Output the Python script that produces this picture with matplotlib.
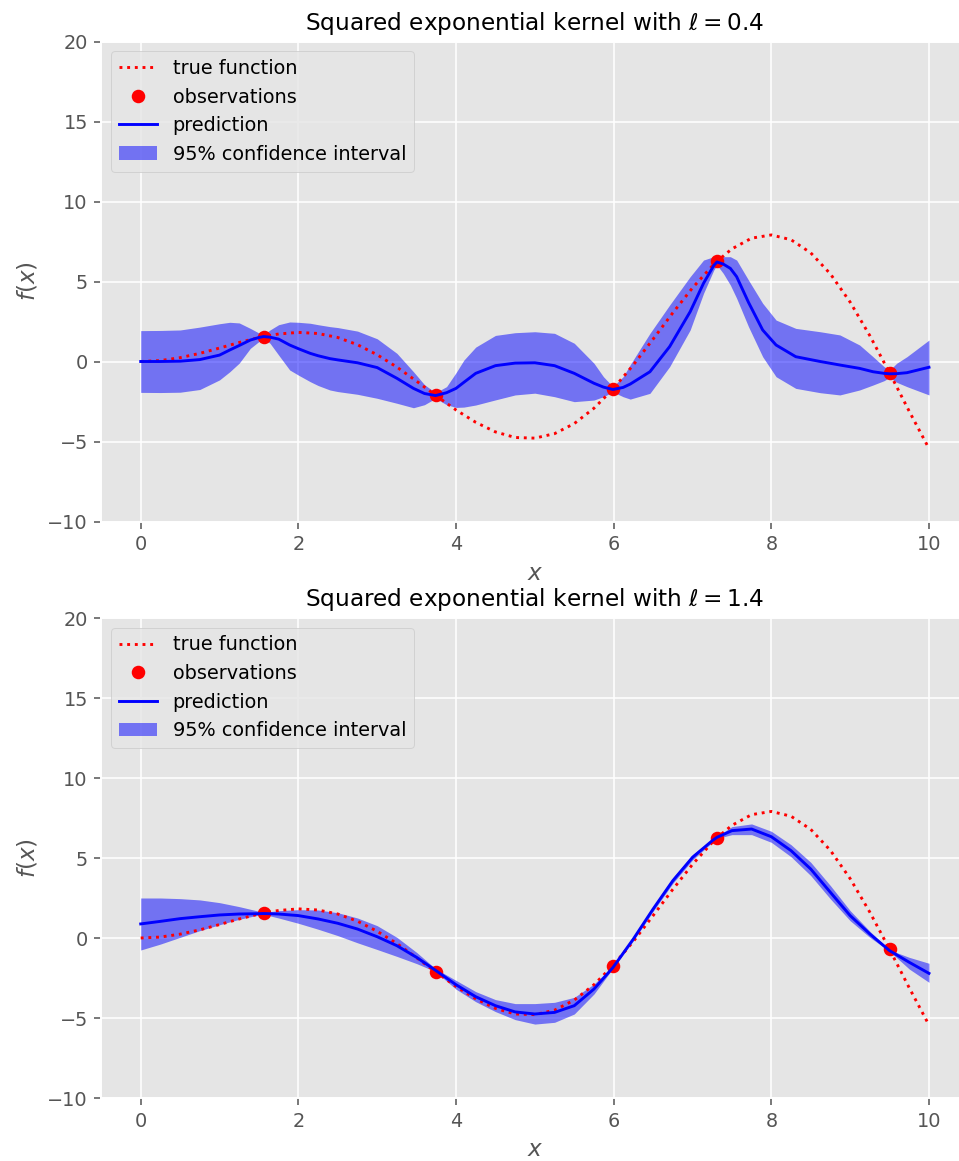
import numpy as np
import matplotlib
matplotlib.use("Agg")
import matplotlib.pyplot as plt

plt.style.use("ggplot")

# observations
x_obs = [1.56, 3.74, 5.99, 7.31, 9.50]
y_obs = [1.56, -2.11, -1.73, 6.26, -0.71]

# true function
x_true = [0, 0.25, 0.5, 0.75, 1.0, 1.25, 1.5, 1.56, 1.75, 2.0, 2.25, 2.5, 2.75,
          3.0, 3.25, 3.5, 3.74, 4.0, 4.25, 4.5, 4.75, 5.0, 5.25, 5.5, 5.75,
          5.99, 6.25, 6.5, 6.75, 7.0, 7.25, 7.31, 7.5, 7.75, 8.0, 8.25, 8.5,
          8.75, 9.0, 9.25, 9.5, 9.75, 10.0]
true_f = [0, 0.06, 0.24, 0.51, 0.84, 1.19, 1.50, 1.56, 1.72, 1.82, 1.75, 1.50,
          1.05, 0.42, -0.35, -1.23, -2.11, -3.03, -3.80, -4.40, -4.75, -4.79,
          -4.51, -3.88, -2.92, -1.73, -0.21, 1.40, 3.04, 4.60, 5.97, 6.26,
          7.04, 7.71, 7.91, 7.61, 6.79, 5.47, 3.71, 1.61, -0.71, -3.12, -5.44]

# length scale 0.4
x_a = [0, 0.25, 0.5, 0.75, 1.0, 1.13, 1.25, 1.39, 1.5, 1.56, 1.64, 1.75, 1.89,
       2.0, 2.15, 2.25, 2.4, 2.5, 2.75, 3.0, 3.25, 3.46, 3.6, 3.74, 3.88, 4.0,
       4.1, 4.25, 4.5, 4.75, 5.0, 5.25, 5.5, 5.75, 5.87, 5.99, 6.12, 6.21,
       6.46, 6.71, 6.97, 7.14, 7.27, 7.31, 7.39, 7.48, 7.56, 7.71, 7.89, 8.06,
       8.31, 8.62, 8.87, 9.12, 9.29, 9.43, 9.5, 9.59, 9.72, 10.0]
mean_a = [0, 0, 0.02, 0.12, 0.4, 0.72, 1.0, 1.34, 1.5, 1.56, 1.52, 1.4, 1.03,
          0.8, 0.51, 0.36, 0.18, 0.1, -0.08, -0.38, -1.05, -1.68, -2.0, -2.13,
          -1.95, -1.68, -1.3, -0.74, -0.26, -0.1, -0.08, -0.26, -0.74, -1.36,
          -1.6, -1.75, -1.62, -1.41, -0.64, 0.93, 3.11, 4.89, 6.0, 6.22, 6.09,
          5.82, 5.3, 3.7, 1.97, 1.03, 0.3, 0.0, -0.22, -0.43, -0.64, -0.74,
          -0.77, -0.76, -0.7, -0.36]
upper_a = [1.93, 1.94, 1.97, 2.15, 2.36, 2.45, 2.41, 2.07, 1.78, 1.66, 1.97,
           2.3, 2.47, 2.45, 2.39, 2.3, 2.18, 2.12, 1.9, 1.42, 0.51, -0.64,
           -1.45, -1.95, -1.57, -0.7, 0.09, 0.9, 1.63, 1.8, 1.86, 1.76, 1.14,
           -0.11, -0.95, -1.57, -0.95, -0.2, 1.76, 3.53, 5.3, 6.34, 6.55, 6.5,
           6.55, 6.55, 6.34, 5.09, 3.64, 2.59, 2.07, 1.86, 1.66, 1.03, 0.3,
           -0.32, -0.55, -0.11, 0.3, 1.34]
lower_a = [-1.93, -1.94, -1.92, -1.75, -1.15, -0.64, -0.1, 0.82, 1.25, 1.45,
           1.14, 0.4, -0.53, -0.85, -1.26, -1.5, -1.78, -1.88, -2.05, -2.3,
           -2.61, -2.89, -2.7, -2.3, -2.7, -2.87, -2.85, -2.72, -2.4, -2.09,
           -1.98, -2.2, -2.51, -2.41, -2.2, -1.9, -2.2, -2.35, -1.99, -0.32,
           1.97, 4.26, 5.72, 6.03, 5.51, 4.78, 3.95, 2.18, 0.3, -0.95, -1.68,
           -1.95, -2.09, -1.78, -1.47, -1.2, -1.0, -1.3, -1.57, -2.09]

# length scale 1.4
x_b = x_true
mean_b = [0.88, 1.04, 1.21, 1.33, 1.44, 1.5, 1.52, 1.53, 1.5, 1.4, 1.19, 0.92,
          0.56, 0.08, -0.48, -1.21, -2.02, -2.92, -3.67, -4.23, -4.62, -4.75,
          -4.65, -4.23, -3.19, -1.85, -0.06, 1.81, 3.58, 5.04, 6.08, 6.29,
          6.71, 6.81, 6.33, 5.46, 4.31, 2.85, 1.4, 0.25, -0.79, -1.52, -2.21]
upper_b = [2.5, 2.5, 2.46, 2.38, 2.21, 1.96, 1.67, 1.6, 1.71, 1.77, 1.75, 1.58,
           1.25, 0.77, 0.04, -0.9, -1.92, -2.65, -3.35, -3.85, -4.1, -4.1,
           -4.02, -3.71, -2.88, -1.75, 0.04, 1.96, 3.75, 5.21, 6.19, 6.35,
           6.96, 7.13, 6.67, 5.83, 4.73, 3.27, 1.71, 0.42, -0.75, -1.21, -1.58]
lower_b = [-0.75, -0.38, 0.04, 0.46, 0.83, 1.17, 1.44, 1.48, 1.25, 0.92, 0.55,
           0.15, -0.3, -0.72, -1.15, -1.6, -2.1, -3.2, -3.98, -4.6, -5.1, -5.38,
           -5.27, -4.75, -3.5, -1.9, -0.17, 1.67, 3.42, 4.88, 5.98, 6.22, 6.46,
           6.46, 5.98, 5.08, 3.9, 2.44, 1.08, 0.04, -0.83, -1.94, -2.77]

panels = [("0.4", x_a, mean_a, upper_a, lower_a),
          ("1.4", x_b, mean_b, upper_b, lower_b)]

dpi = 139
fig = plt.figure(figsize=(959 / dpi, 1161 / dpi), dpi=dpi)
left, width, height = 101.3 / 959, 867.1 / 959, 480 / 1161
bottoms = [(1161 - 521.5) / 1161, (1161 - 1098) / 1161]

for (ell, xs, mu, hi, lo), b in zip(panels, bottoms):
    ax = fig.add_axes([left, b, width, height])
    band = ax.fill_between(xs, lo, hi, color="b", alpha=0.5, lw=0,
                           label="95% confidence interval")
    l1, = ax.plot(x_true, true_f, "r:", label="true function")
    l2, = ax.plot(x_obs, y_obs, "ro", ms=6, label="observations")
    l3, = ax.plot(xs, mu, "b-", label="prediction")
    ax.set_xlim(-0.5, 10.5)
    ax.set_ylim(-10, 20)
    ax.set_xlabel("$x$")
    ax.set_ylabel("$f(x)$")
    ax.set_title(r"Squared exponential kernel with $\ell=%s$" % ell, fontsize=12)
    ax.legend(handles=[l1, l2, l3, band], loc="upper left")

fig.savefig("out.png", dpi=dpi)
